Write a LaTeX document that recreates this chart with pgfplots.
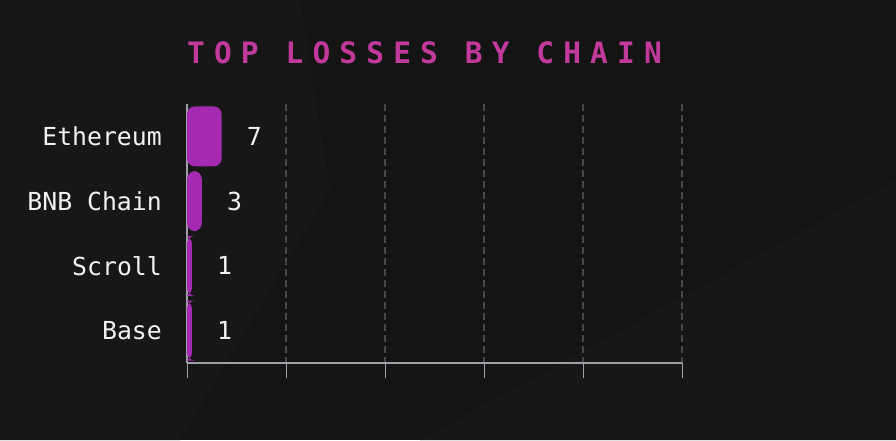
\documentclass[border=0pt]{standalone}
\usepackage{pgfplots}
\pgfplotsset{compat=1.18}
\usepackage{pgfplotstable}
\usepackage{fontspec}
\setmainfont{DejaVu Sans Mono}
\newfontfamily\titlefont[LetterSpace=31]{DejaVu Sans Mono}
\definecolor{bgc}{HTML}{141414}
\definecolor{bgl}{HTML}{171717}
\definecolor{barc}{HTML}{A52AB2}
\definecolor{titlec}{HTML}{C2399C}
\definecolor{gridc}{HTML}{474747}
\definecolor{axisc}{HTML}{A0A0A8}
\definecolor{txtc}{HTML}{F2F2F2}

\pgfplotstableread{
label value
Ethereum 7
{BNB Chain} 3
Scroll 1
Base 1
}\losses

\begin{document}
\begin{tikzpicture}[x=1pt,y=1pt]
\fill[bgc] (0,0) rectangle (896,440);
\fill[bgl] (0,440) -- (300,440) -- (330,250) -- (180,0) -- (0,0) -- cycle;
\fill[bgl] (420,0) -- (896,260) -- (896,0) -- cycle;
\node[anchor=base west, inner sep=0pt, text=titlec] at (187,376)
  {\titlefont\bfseries\fontsize{29.5}{32}\selectfont TOP LOSSES BY CHAIN};
\begin{axis}[
  at={(187pt,77pt)}, anchor=south west,
  scale only axis, width=495pt, height=259pt,
  /pgf/number format/assume math mode=true,
  xbar, bar width=60pt,
  xmin=10, xmax=110,
  ymin=-0.5, ymax=3.5, y dir=reverse,
  axis x line*=bottom, axis y line*=left,
  axis line style={draw=axisc, line width=1.2pt, -},
  xtick={10,30,50,70,90,110}, xticklabels={},
  xtick style={draw=axisc, line width=1pt},
  tick align=outside, major tick length=15pt,
  ytick={0,1,2,3},
  yticklabels from table={\losses}{label},
  ytick style={draw=none},
  yticklabel style={anchor=east, inner sep=0pt, xshift=-10pt, text=txtc,
     font=\fontsize{24.8}{28}\selectfont},
  xmajorgrids,
  major grid style={draw=gridc, line width=1.2pt, dash pattern=on 7pt off 4pt},
  nodes near coords,
  nodes near coords style={anchor=west, inner sep=0pt, xshift=25pt, text=txtc,
     font=\fontsize{24.8}{28}\selectfont},
  point meta=explicit,
]
\addplot[fill=barc, draw=none, rounded corners=8pt]
  table[x expr=\thisrow{value}+10, y expr=\coordindex, meta=value] {\losses};
\end{axis}
\end{tikzpicture}
\end{document}
